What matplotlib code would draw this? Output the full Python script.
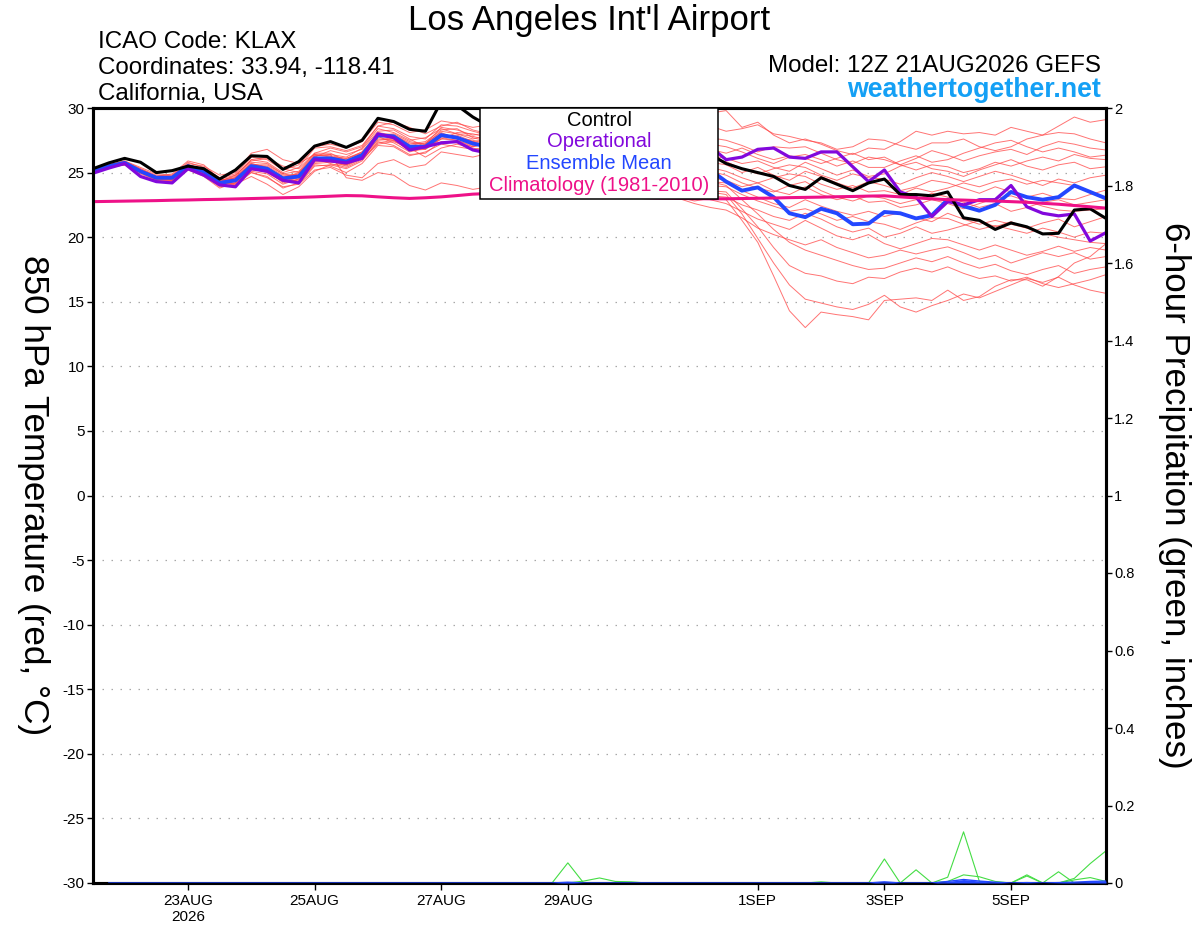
import numpy as np
import pandas as pd
import matplotlib
matplotlib.use("Agg")
import matplotlib.pyplot as plt
from matplotlib.patches import Rectangle

plt.rcParams['font.family'] = ['Liberation Sans', 'DejaVu Sans']
plt.rcParams['axes.unicode_minus'] = False

# 6-hourly GEFS steps, 12Z 21AUG2026 -> 12Z 6SEP2026
times = pd.date_range("2026-08-21 12:00", periods=65, freq="6h")

# 850 hPa temperature (deg C)
control = [25.3, 25.75, 26.1, 25.8, 25.0, 25.15, 25.5, 25.3, 24.5, 25.2, 26.3, 26.25, 25.25, 25.85, 27.05, 27.4, 26.95, 27.5, 29.2, 28.95, 28.35, 28.2, 30.5, 30.2, 29.3,
           28.6, 28.0, 27.8, 27.3, 27.6, 27.9, 27.4, 27.0, 27.3, 27.6, 27.1, 26.7, 26.9, 26.6, 26.4,
           25.7, 25.3, 25.0, 24.7, 24.0, 23.7, 24.6, 24.1, 23.6, 24.2, 24.5, 23.3, 23.3, 23.2, 23.5, 21.5, 21.3, 20.6, 21.1, 20.8, 20.25, 20.3, 22.1, 22.2, 21.45]
operational = [24.95, 25.35, 25.7, 24.7, 24.3, 24.2, 25.3, 24.8, 24.05, 23.9, 25.3, 25.1, 24.4, 24.2, 26.0, 25.9, 25.75, 26.1, 28.0, 27.7, 26.75, 27.0, 27.3, 27.4, 26.75,
               26.5, 26.2, 26.6, 26.9, 26.4, 26.0, 26.3, 26.7, 26.5, 26.1, 26.4, 26.8, 26.5, 26.7, 27.0,
               26.0, 26.2, 26.8, 26.9, 26.2, 26.1, 26.6, 26.6, 25.45, 24.3, 25.2, 23.5, 23.1, 21.6, 22.75, 22.5, 22.9, 22.9, 24.0, 22.35, 21.85, 21.65, 21.8, 19.7, 20.35]
ens_mean = [25.2, 25.5, 25.75, 25.1, 24.6, 24.6, 25.5, 25.1, 24.2, 24.4, 25.5, 25.3, 24.55, 24.7, 26.1, 26.1, 25.85, 26.35, 27.9, 27.8, 27.0, 27.0, 27.9, 27.7, 27.25,
            27.0, 26.8, 27.0, 26.7, 26.5, 26.6, 26.3, 26.1, 26.2, 25.9, 25.8, 25.9, 25.6, 25.5, 25.2,
            24.3, 23.6, 23.85, 23.1, 21.85, 21.55, 22.2, 21.85, 21.0, 21.05, 21.95, 21.85, 21.45, 21.7, 22.9, 22.4, 22.05, 22.5, 23.5, 23.1, 22.9, 23.1, 24.0, 23.5, 23.0]
climatology = [22.75, 22.77, 22.79, 22.81, 22.83, 22.86, 22.88, 22.91, 22.93, 22.96, 22.99, 23.02, 23.05, 23.08, 23.12, 23.17, 23.22, 23.2, 23.12, 23.05, 23.0, 23.05, 23.12, 23.22, 23.33,
               23.38, 23.4, 23.4, 23.38, 23.35, 23.3, 23.25, 23.2, 23.15, 23.1, 23.05, 23.02, 23.0, 22.98, 22.97,
               22.97, 22.99, 23.01, 23.03, 23.06, 23.08, 23.1, 23.13, 23.15, 23.18, 23.2, 23.12, 23.04, 22.97, 22.9, 22.87, 22.83, 22.8, 22.75, 22.7, 22.62, 22.55, 22.45, 22.35, 22.25]

# ensemble members
m01 = [25.3, 25.6, 25.9, 25.4, 24.9, 24.8, 25.8, 25.4, 24.6, 24.9, 26.2, 26.0, 25.2, 25.6, 27.0, 27.2, 26.9, 27.4, 28.9, 28.7, 28.1, 28.3, 29.0, 28.8, 28.5,
       28.7, 29.0, 28.6, 28.9, 29.2, 28.8, 28.5, 28.9, 29.3, 29.0, 28.7, 29.1, 29.5, 29.3, 29.6,
       29.8, 28.5, 28.9, 27.9, 27.3, 27.6, 27.2, 26.7, 26.4, 26.9, 26.8, 27.4, 28.2, 27.9, 28.2, 28.0, 28.1, 27.9, 28.5, 28.2, 27.9, 28.6, 29.3, 28.9, 29.1]
m02 = [25.2, 25.5, 25.8, 25.2, 24.6, 24.7, 25.6, 25.2, 24.3, 24.8, 25.9, 26.1, 25.5, 25.3, 26.5, 26.9, 26.6, 27.0, 28.6, 28.9, 28.5, 28.0, 28.6, 28.9, 28.3,
       28.0, 28.4, 28.7, 28.3, 28.0, 28.4, 28.8, 28.5, 28.1, 28.4, 28.7, 28.3, 28.0, 28.4, 28.6,
       28.2, 28.4, 28.7, 28.0, 27.8, 27.5, 27.3, 26.8, 27.0, 27.6, 27.5, 27.1, 26.8, 27.3, 27.3, 27.6, 27.0, 26.7, 27.0, 27.6, 27.9, 28.1, 28.0, 27.6, 27.3]
m03 = [25.1, 25.4, 25.7, 25.0, 24.5, 24.5, 25.4, 25.0, 24.0, 24.2, 25.4, 25.2, 24.4, 24.4, 25.8, 25.9, 25.5, 26.1, 27.6, 27.5, 26.8, 27.2, 28.2, 28.0, 27.6,
       27.9, 28.2, 27.8, 27.5, 27.9, 28.3, 28.0, 27.6, 27.9, 28.1, 27.7, 27.4, 27.8, 28.0, 27.7,
       27.5, 27.1, 26.6, 27.0, 26.9, 27.0, 26.5, 26.0, 25.7, 26.2, 26.0, 25.6, 26.1, 26.7, 26.35, 25.9, 26.3, 26.6, 26.8, 26.4, 27.0, 27.4, 27.2, 26.9, 26.75]
m04 = [25.2, 25.6, 25.8, 25.3, 24.8, 24.7, 25.7, 25.5, 24.8, 25.0, 26.5, 26.8, 26.0, 25.7, 26.4, 26.2, 26.0, 26.6, 28.1, 27.9, 27.3, 27.2, 28.5, 28.3, 27.9,
       28.1, 27.7, 27.4, 27.8, 28.2, 27.9, 27.5, 27.2, 27.6, 27.9, 27.5, 27.1, 27.4, 27.6, 27.2,
       27.0, 26.6, 26.1, 25.7, 26.2, 26.4, 26.0, 25.5, 25.9, 25.4, 25.4, 25.9, 26.3, 25.8, 26.0, 26.5, 26.9, 27.3, 27.5, 27.0, 26.6, 26.9, 26.6, 26.2, 26.35]
m05 = [25.3, 25.5, 25.7, 25.1, 24.5, 24.4, 25.3, 24.8, 23.9, 24.1, 25.1, 24.9, 24.1, 24.5, 25.9, 26.0, 25.6, 26.3, 27.8, 27.3, 26.6, 26.9, 27.8, 27.9, 27.4,
       27.6, 27.9, 27.5, 27.1, 27.4, 27.8, 27.4, 27.0, 26.8, 27.2, 27.5, 27.1, 26.7, 26.9, 26.8,
       26.5, 26.9, 26.4, 26.0, 26.3, 26.1, 25.7, 26.1, 26.5, 26.0, 26.2, 25.6, 25.2, 25.6, 25.45, 25.0, 25.3, 25.8, 25.5, 25.9, 26.2, 25.9, 26.4, 26.1, 26.0]
m06 = [25.2, 25.5, 25.7, 25.2, 24.7, 24.8, 25.6, 25.3, 24.4, 24.6, 25.7, 25.4, 24.7, 24.9, 26.3, 26.4, 26.2, 26.9, 28.4, 28.1, 27.5, 27.7, 28.4, 28.0, 27.8,
       27.5, 27.2, 27.6, 27.9, 27.4, 27.0, 27.3, 27.5, 27.1, 26.8, 27.0, 26.7, 26.4, 26.6, 26.3,
       26.1, 25.7, 25.9, 25.4, 25.1, 25.8, 25.3, 24.8, 25.2, 24.7, 24.9, 25.5, 25.8, 25.3, 25.1, 24.7, 25.2, 25.6, 26.0, 25.5, 25.2, 25.6, 25.8, 25.3, 25.45]
m07 = [25.1, 25.4, 25.6, 25.0, 24.4, 24.3, 25.2, 24.9, 24.0, 24.0, 25.0, 24.6, 23.9, 24.1, 25.5, 25.6, 25.3, 25.9, 27.4, 27.1, 26.4, 26.5, 27.4, 27.3, 27.0,
       27.3, 27.6, 27.2, 26.8, 27.1, 27.4, 27.0, 26.6, 26.9, 27.1, 26.7, 26.3, 26.5, 26.2, 26.0,
       25.85, 25.3, 24.9, 25.3, 25.6, 25.4, 24.8, 24.4, 24.9, 24.6, 24.5, 24.1, 24.6, 25.0, 24.7, 24.3, 24.7, 25.1, 24.8, 24.4, 24.0, 24.5, 24.2, 24.6, 24.8]
m08 = [25.2, 25.4, 25.7, 25.1, 24.6, 24.6, 25.5, 25.0, 24.1, 24.3, 25.6, 25.5, 24.8, 24.8, 26.0, 26.2, 26.1, 26.6, 27.9, 27.7, 27.1, 27.3, 28.1, 27.6, 27.3,
       27.0, 26.7, 27.1, 27.4, 27.0, 26.6, 26.9, 27.2, 26.8, 26.4, 26.6, 26.2, 25.9, 26.1, 25.8,
       25.6, 25.0, 25.4, 24.8, 24.4, 25.1, 24.7, 24.2, 23.8, 24.3, 24.0, 23.6, 23.9, 24.4, 24.2, 23.8, 23.4, 23.9, 23.5, 23.1, 23.4, 23.0, 22.9, 23.3, 23.65]
m09 = [25.3, 25.6, 25.9, 25.3, 24.7, 24.6, 25.4, 24.9, 24.2, 24.6, 25.8, 25.7, 24.9, 25.1, 26.5, 26.5, 25.9, 26.2, 27.5, 27.6, 27.0, 26.8, 27.7, 27.5, 27.1,
       27.4, 27.1, 26.7, 27.0, 27.3, 26.9, 26.5, 26.7, 26.3, 26.0, 26.3, 26.0, 25.6, 25.8, 25.4,
       25.1, 24.6, 24.2, 24.6, 24.9, 24.7, 24.1, 23.7, 24.0, 23.5, 23.6, 23.3, 23.8, 23.5, 23.8, 24.2, 23.9, 24.3, 24.5, 24.1, 24.4, 24.2, 24.0, 23.5, 23.1]
m10 = [25.2, 25.5, 25.7, 25.1, 24.5, 24.5, 25.5, 25.1, 24.3, 24.5, 25.3, 25.0, 24.3, 24.6, 26.2, 26.7, 26.4, 26.8, 28.2, 28.3, 27.6, 27.0, 27.6, 28.1, 28.0,
       27.7, 27.4, 27.8, 27.5, 27.1, 26.8, 27.1, 26.7, 26.3, 26.5, 26.1, 25.7, 25.9, 25.5, 25.1,
       24.8, 24.2, 23.8, 23.5, 24.0, 24.3, 23.6, 23.1, 22.8, 23.2, 23.0, 22.6, 22.9, 23.4, 23.1, 22.7, 22.3, 22.6, 22.0, 22.3, 22.7, 22.9, 22.5, 22.7, 22.9]
m11 = [25.1, 25.4, 25.6, 24.9, 24.4, 24.4, 25.3, 25.0, 24.1, 24.2, 25.2, 25.1, 24.6, 24.3, 25.7, 25.8, 25.7, 26.4, 28.0, 27.9, 27.2, 27.4, 28.3, 28.4, 27.7,
       27.4, 27.0, 27.3, 26.9, 26.5, 26.8, 26.4, 26.0, 26.2, 25.8, 25.4, 25.6, 25.2, 24.9, 24.6,
       24.4, 23.9, 24.2, 23.6, 23.3, 23.9, 23.3, 22.9, 23.2, 22.7, 22.8, 22.3, 22.5, 22.9, 22.6, 22.2, 22.6, 23.0, 23.2, 22.8, 22.4, 22.1, 22.0, 22.1, 22.2]
m12 = [25.2, 25.5, 25.8, 25.2, 24.7, 24.9, 25.9, 25.6, 24.5, 24.3, 25.0, 24.7, 23.8, 24.2, 25.6, 25.5, 25.0, 25.7, 27.1, 27.0, 26.3, 26.6, 27.2, 27.0, 26.8,
       27.0, 26.6, 26.2, 26.5, 26.1, 25.7, 26.0, 25.6, 25.2, 25.5, 25.1, 24.8, 25.0, 24.6, 24.3,
       24.2, 23.6, 23.1, 22.6, 22.3, 22.9, 22.4, 22.0, 21.7, 22.0, 21.6, 21.9, 21.5, 21.2, 21.85, 21.4, 21.0, 21.3, 21.0, 20.7, 21.1, 21.4, 20.8, 21.2, 21.6]
m13 = [25.3, 25.6, 25.8, 25.0, 24.5, 24.6, 25.5, 25.2, 24.4, 24.7, 26.0, 26.2, 25.3, 25.0, 26.1, 25.7, 25.4, 26.0, 27.2, 27.4, 26.9, 26.2, 26.9, 27.2, 26.9,
       26.6, 26.9, 26.5, 26.1, 26.4, 26.0, 25.6, 25.8, 25.4, 25.0, 25.2, 24.8, 24.5, 24.3, 24.0,
       23.9, 23.3, 22.8, 22.4, 22.0, 22.2, 21.8, 21.3, 21.6, 21.2, 21.0, 20.6, 21.1, 21.5, 21.45, 21.0, 20.6, 20.9, 20.6, 20.3, 20.7, 20.4, 20.0, 20.4, 20.3]
m14 = [25.2, 25.4, 25.7, 25.1, 24.6, 24.5, 25.4, 25.0, 24.2, 24.4, 25.5, 25.4, 24.5, 24.1, 25.2, 25.4, 24.8, 24.6, 25.7, 26.0, 25.4, 25.6, 26.6, 26.4, 26.2,
       26.5, 26.1, 25.7, 26.0, 25.6, 25.2, 25.5, 25.1, 24.7, 24.9, 24.5, 24.1, 23.8, 23.5, 23.2,
       23.1, 22.5, 22.1, 21.6, 21.3, 21.85, 21.4, 20.8, 20.4, 20.7, 20.0, 20.3, 20.8, 20.3, 20.55, 20.9, 21.3, 20.8, 21.2, 20.7, 20.3, 20.0, 19.8, 19.6, 19.5]
m15 = [25.1, 25.5, 25.7, 25.2, 24.6, 24.6, 25.6, 25.1, 24.2, 24.1, 24.7, 24.1, 23.3, 23.9, 25.1, 25.6, 25.6, 26.2, 27.7, 27.6, 26.9, 27.1, 28.0, 27.7, 27.5,
       27.2, 26.8, 27.1, 26.6, 26.2, 26.4, 25.9, 25.5, 25.6, 25.1, 24.6, 24.2, 23.8, 23.3, 22.9,
       22.6, 22.0, 21.4, 21.0, 20.6, 21.3, 20.7, 20.1, 19.8, 20.2, 19.5, 19.1, 19.5, 19.9, 19.8, 19.4, 19.0, 19.4, 19.0, 18.6, 18.9, 19.3, 18.9, 19.2, 19.0]
m16 = [25.2, 25.6, 25.8, 25.1, 24.5, 24.4, 25.2, 24.7, 23.8, 24.2, 25.4, 25.3, 24.6, 24.9, 26.3, 26.4, 24.6, 24.4, 25.0, 24.8, 24.0, 23.65, 24.2, 24.0, 23.7,
       23.9, 24.3, 24.6, 24.9, 25.3, 25.0, 24.6, 24.8, 24.4, 24.0, 23.8, 23.5, 23.0, 22.6, 22.3,
       22.1, 21.5, 20.7, 20.2, 19.8, 19.4, 19.8, 19.2, 18.8, 18.4, 18.6, 19.0, 18.7, 19.0, 19.25, 18.8, 18.3, 18.6, 18.0, 18.4, 18.8, 18.5, 18.8, 18.3, 18.5]
m17 = [25.3, 25.5, 25.8, 25.2, 24.7, 24.7, 25.6, 25.3, 24.5, 24.8, 26.0, 25.8, 25.0, 25.4, 26.9, 27.0, 26.7, 27.1, 28.6, 28.4, 27.8, 27.6, 28.7, 28.6, 28.2,
       27.9, 28.2, 27.8, 27.4, 27.7, 27.3, 26.9, 27.1, 26.6, 26.2, 25.8, 25.4, 25.0, 24.6, 24.3,
       24.0, 22.9, 21.8, 20.6, 19.6, 19.0, 18.6, 18.2, 17.8, 17.5, 17.6, 18.0, 18.4, 18.1, 18.5, 18.0, 17.6, 17.9, 17.4, 17.1, 17.5, 17.8, 17.2, 17.5, 17.7]
m18 = [25.2, 25.5, 25.7, 25.0, 24.5, 24.5, 25.4, 24.9, 24.0, 24.4, 25.4, 25.2, 24.2, 24.5, 25.9, 25.9, 25.6, 26.1, 27.3, 27.5, 26.7, 26.8, 27.6, 27.5, 27.0,
       27.3, 26.9, 26.5, 26.8, 26.3, 25.9, 26.1, 25.6, 25.2, 24.8, 24.4, 24.0, 23.6, 23.4, 23.6,
       23.5, 22.2, 20.8, 19.2, 17.8, 17.2, 17.0, 16.6, 16.4, 16.9, 16.8, 17.3, 17.6, 17.3, 17.7, 17.2, 16.8, 17.0, 16.6, 16.9, 16.4, 16.1, 16.4, 16.7, 17.1]
m19 = [25.1, 25.4, 25.6, 25.0, 24.5, 24.5, 25.5, 25.1, 24.3, 24.5, 25.6, 25.6, 24.9, 24.7, 25.9, 26.1, 25.9, 26.5, 28.0, 27.8, 27.1, 26.9, 27.8, 27.8, 27.2,
       26.9, 26.5, 26.8, 26.4, 26.0, 25.6, 25.8, 25.3, 24.8, 24.4, 24.0, 23.5, 23.1, 22.8, 23.0,
       22.9, 21.3, 19.6, 17.0, 14.3, 13.0, 14.2, 14.0, 13.85, 13.6, 15.1, 15.2, 15.3, 15.1, 15.9, 15.1, 15.4, 16.2, 16.7, 16.7, 16.2, 16.95, 18.0, 18.5, 19.5]
m20 = [25.2, 25.5, 25.8, 25.2, 24.6, 24.6, 25.5, 25.2, 24.3, 24.6, 25.7, 25.4, 24.6, 25.0, 26.4, 26.3, 26.1, 26.5, 27.9, 28.0, 27.4, 27.2, 28.0, 27.7, 27.4,
       27.1, 27.4, 27.0, 26.6, 26.9, 26.4, 26.0, 25.7, 25.3, 25.5, 25.0, 24.6, 24.1, 23.8, 23.5,
       23.3, 21.8, 19.9, 18.0, 16.3, 15.2, 14.9, 14.6, 14.4, 14.8, 15.5, 14.6, 14.2, 14.7, 15.1, 15.6, 15.3, 15.8, 16.3, 16.8, 16.5, 16.9, 16.3, 15.9, 15.65]
members = [m01, m02, m03, m04, m05, m06, m07, m08, m09, m10,
           m11, m12, m13, m14, m15, m16, m17, m18, m19, m20]

# 6-hour precipitation (inches), members with any rain; first step has none
nan = np.nan
precip_a = [nan, 0, 0, 0, 0, 0, 0, 0, 0, 0, 0, 0, 0,
            0, 0, 0, 0, 0, 0, 0, 0, 0, 0, 0, 0, 0,
            0, 0, 0, 0, 0.052, 0, 0, 0, 0, 0, 0, 0, 0,
            0, 0, 0, 0, 0, 0, 0, 0, 0, 0, 0, 0, 0,
            0, 0, 0, 0, 0, 0, 0, 0, 0, 0, 0, 0, 0]
precip_b = [nan, 0, 0, 0, 0, 0, 0, 0, 0, 0, 0, 0, 0,
            0, 0, 0, 0, 0, 0, 0, 0, 0, 0, 0, 0, 0,
            0, 0, 0, 0, 0, 0.005, 0.013, 0.004, 0.003, 0, 0, 0, 0,
            0, 0, 0, 0, 0, 0, 0, 0.003, 0, 0, 0, 0, 0,
            0, 0, 0, 0, 0, 0, 0, 0, 0, 0, 0, 0, 0]
precip_c = [nan, 0, 0, 0, 0, 0, 0, 0, 0, 0, 0, 0, 0,
            0, 0, 0, 0, 0, 0, 0, 0, 0, 0, 0, 0, 0,
            0, 0, 0, 0, 0, 0, 0, 0, 0, 0, 0, 0, 0,
            0, 0, 0, 0, 0, 0, 0, 0, 0, 0, 0, 0.062, 0,
            0, 0, 0, 0, 0, 0, 0, 0, 0, 0, 0, 0, 0]
precip_d = [nan, 0, 0, 0, 0, 0, 0, 0, 0, 0, 0, 0, 0,
            0, 0, 0, 0, 0, 0, 0, 0, 0, 0, 0, 0, 0,
            0, 0, 0, 0, 0, 0, 0, 0, 0, 0, 0, 0, 0,
            0, 0, 0, 0, 0, 0, 0, 0, 0, 0, 0, 0, 0,
            0.034, 0, 0.015, 0.132, 0.004, 0, 0, 0, 0, 0, 0, 0, 0]
precip_e = [nan, 0, 0, 0, 0, 0, 0, 0, 0, 0, 0, 0, 0,
            0, 0, 0, 0, 0, 0, 0, 0, 0, 0, 0, 0, 0,
            0, 0, 0, 0, 0, 0, 0, 0, 0, 0, 0, 0, 0,
            0, 0, 0, 0, 0, 0, 0, 0, 0, 0, 0, 0, 0,
            0, 0, 0.004, 0.021, 0.016, 0.004, 0, 0.021, 0, 0.029, 0, 0, 0]
precip_f = [nan, 0, 0, 0, 0, 0, 0, 0, 0, 0, 0, 0, 0,
            0, 0, 0, 0, 0, 0, 0, 0, 0, 0, 0, 0, 0,
            0, 0, 0, 0, 0, 0, 0, 0, 0, 0, 0, 0, 0,
            0, 0, 0, 0, 0, 0, 0, 0, 0, 0, 0, 0, 0,
            0, 0, 0, 0, 0, 0, 0, 0.018, 0, 0, 0.012, 0.05, 0.083]
precip_g = [nan, 0, 0, 0, 0, 0, 0, 0, 0, 0, 0, 0, 0,
            0, 0, 0, 0, 0, 0, 0, 0, 0, 0, 0, 0, 0,
            0, 0, 0, 0, 0, 0, 0, 0, 0, 0, 0, 0, 0,
            0, 0, 0, 0, 0, 0, 0, 0, 0, 0, 0, 0, 0,
            0, 0, 0, 0, 0, 0, 0, 0, 0, 0, 0.008, 0.014, 0.004]
precip_members = [precip_a, precip_b, precip_c, precip_d, precip_e, precip_f, precip_g]
precip_mean = [nan, 0, 0, 0, 0, 0, 0, 0, 0, 0, 0, 0, 0,
               0, 0, 0, 0, 0, 0, 0, 0, 0, 0, 0, 0, 0,
               0, 0, 0, 0, 0.002, 0, 0, 0, 0, 0, 0, 0, 0,
               0, 0, 0, 0, 0, 0, 0, 0, 0, 0, 0, 0.003, 0,
               0, 0, 0.004, 0.009, 0.005, 0.002, 0, 0.001, 0, 0.001, 0.002, 0.004, 0.005]

tick_dates = pd.to_datetime(["2026-08-23", "2026-08-25", "2026-08-27", "2026-08-29",
                             "2026-09-01", "2026-09-03", "2026-09-05"])
tick_labels = ["23AUG\n2026", "25AUG", "27AUG", "29AUG", "1SEP", "3SEP", "5SEP"]

legend_items = ["Control", "Operational", "Ensemble Mean", "Climatology (1981-2010)"]

C_OP = "#8208dc"
C_MEAN = "#2347ff"
C_CLIM = "#ee1188"
C_MEMBER = "#ff4545"
C_RAIN = "#44dd44"

fig = plt.figure(figsize=(12, 9.27), dpi=100)
ax = fig.add_axes([93 / 1200, 44 / 927, 1013 / 1200, 775 / 927])

for v in range(-25, 30, 5):
    ax.axhline(v, color="#a8a8a8", lw=0.9, ls=(0, (1.2, 6)), zorder=1)

for m in members:
    ax.plot(times, m, color=C_MEMBER, lw=0.7, alpha=0.75, zorder=2)
ax.plot(times, ens_mean, color=C_MEAN, lw=2.8, zorder=3)
ax.plot(times, operational, color=C_OP, lw=2.3, zorder=4)
ax.plot(times, control, color="black", lw=2.2, zorder=5)
ax.plot(times, climatology, color=C_CLIM, lw=2.2, zorder=6)

ax.set_xlim(times[0], times[-1])
ax.set_ylim(-30, 30)
ax.set_yticks(range(-30, 31, 5))
ax.set_xticks(tick_dates)
ax.set_xticklabels(tick_labels)
ax.tick_params(axis="y", direction="out", length=4, width=1, labelsize=11, pad=2)
ax.tick_params(axis="x", direction="out", length=5, width=1, labelsize=11, pad=3)
for s in ax.spines.values():
    s.set_linewidth(2.2)

# precipitation on the right axis
ax2 = ax.twinx()
for p in precip_members:
    ax2.plot(times, p, color=C_RAIN, lw=0.8, zorder=2)
pm = np.array(precip_mean, dtype=float)
ax2.fill_between(times, 0, pm, color=C_MEAN, lw=0, zorder=3)
ax2.plot(times, pm, color=C_MEAN, lw=1.0, zorder=3)
ax2.set_ylim(0, 2)
ax2.set_yticks(np.arange(0, 2.01, 0.2))
ax2.set_yticklabels([f"{v:g}" for v in np.arange(0, 2.01, 0.2).round(1)])
ax2.tick_params(axis="y", direction="out", length=4, width=1, labelsize=10.5, pad=2)
for s in ax2.spines.values():
    s.set_linewidth(2.2)

# legend box
x0 = (480 - 93) / 1013
x1 = (718 - 93) / 1013
y0 = (883 - 199) / 775
ax2.add_patch(Rectangle((x0, y0), x1 - x0, 1 - y0, transform=ax2.transAxes,
                        facecolor="white", edgecolor="black", lw=1.1, zorder=20, clip_on=False))
leg_colors = ["black", C_OP, C_MEAN, C_CLIM]
leg_y = [120, 141, 163, 185]
for txt, col, yy in zip(legend_items, leg_colors, leg_y):
    ax2.text((x0 + x1) / 2, (883 - yy) / 775, txt, color=col, fontsize=14.5,
             ha="center", va="center", transform=ax2.transAxes, zorder=21)

# header text
fig.text(589.5 / 1200, 1 - 30 / 927, "Los Angeles Int'l Airport", ha="center", va="baseline", fontsize=25)
fig.text(98 / 1200, 1 - 48 / 927, "ICAO Code: KLAX", ha="left", va="baseline", fontsize=17.4)
fig.text(98 / 1200, 1 - 74 / 927, "Coordinates: 33.94, -118.41", ha="left", va="baseline", fontsize=17.4)
fig.text(98 / 1200, 1 - 100 / 927, "California, USA", ha="left", va="baseline", fontsize=17.4)
fig.text(1101 / 1200, 1 - 72 / 927, "Model: 12Z 21AUG2026 GEFS", ha="right", va="baseline", fontsize=17.4)
fig.text(1101 / 1200, 1 - 97 / 927, "weathertogether.net", ha="right", va="baseline",
         fontsize=19.3, fontweight="bold", color="#14a0f5")

fig.text(33 / 1200, 1 - 495 / 927, "850 hPa Temperature (red, °C)", rotation=270,
         ha="center", va="center", fontsize=25.3)
fig.text(1175 / 1200, 1 - 495 / 927, "6-hour Precipitation (green, inches)", rotation=270,
         ha="center", va="center", fontsize=25.2)

fig.savefig("out.png", dpi=100)
